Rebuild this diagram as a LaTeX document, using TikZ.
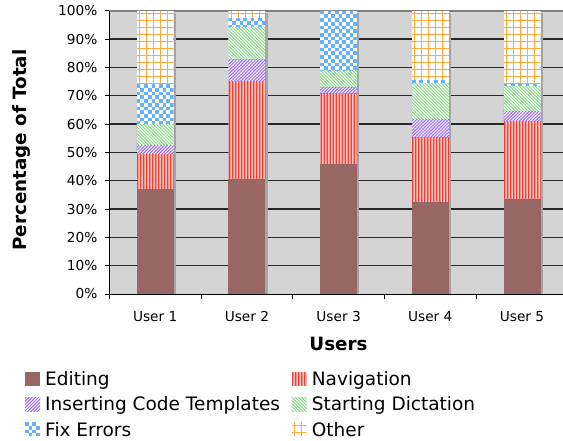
\documentclass[tikz,border=0pt]{standalone}
\usepackage{fontspec}
\setmainfont{DejaVu Sans}
\definecolor{plotbg}{RGB}{212,212,212}
\definecolor{editc}{RGB}{153,102,102}
\definecolor{navbg}{RGB}{242,150,142}
\definecolor{navln}{RGB}{240,64,60}
\definecolor{navlt}{RGB}{252,196,188}
\definecolor{insc}{RGB}{153,102,255}
\definecolor{startc}{RGB}{140,220,140}
\definecolor{fixc}{RGB}{102,178,255}
\definecolor{othc}{RGB}{255,170,60}
\definecolor{gridc}{RGB}{40,40,40}
\definecolor{barsh}{RGB}{165,165,165}
% segment painters: #1 x-left, #2 y-top, #3 x-right, #4 y-bottom (pixel coords)
\newcommand\segedit[4]{\fill[editc] (#1,#2) rectangle (#3,#4);}
\newcommand\segnav[4]{\begin{scope}\clip (#1,#2) rectangle (#3,#4);
 \fill[navbg] (#1,#2) rectangle (#3,#4);
 \foreach \i in {0,...,13}{\draw[navln,line width=1pt] ({#1+1+\i*3},#2) -- ({#1+1+\i*3},#4);
   \draw[navlt,line width=0.8pt] ({#1+2.5+\i*3},#2) -- ({#1+2.5+\i*3},#4);}
 \end{scope}}
\newcommand\segins[4]{\begin{scope}\clip (#1,#2) rectangle (#3,#4);
 \fill[white] (#1,#2) rectangle (#3,#4);
 \foreach \i in {-15,...,14}{\draw[insc,line width=1pt] ({#1+\i*3.2-40},{#4+40}) -- ({#1+\i*3.2+40},{#4-40});}
 \end{scope}}
\newcommand\segstart[4]{\begin{scope}\clip (#1,#2) rectangle (#3,#4);
 \fill[white] (#1,#2) rectangle (#3,#4);
 \foreach \i in {-16,...,14}{\draw[startc,line width=1pt] ({#1+\i*3.2-40},{#2-40}) -- ({#1+\i*3.2+40},{#2+40});}
 \end{scope}}
\newcommand\segfix[4]{\begin{scope}\clip (#1,#2) rectangle (#3,#4);
 \fill[white] (#1,#2) rectangle (#3,#4);
 \foreach \i in {0,2,...,10}{\draw[fixc,line width=3.7pt,dash pattern=on 3.7pt off 3.7pt] ({#1+(\i+0.5)*3.7},#2) -- ({#1+(\i+0.5)*3.7},#4);}
 \foreach \i in {1,3,...,11}{\draw[fixc,line width=3.7pt,dash pattern=on 3.7pt off 3.7pt,dash phase=3.7pt] ({#1+(\i+0.5)*3.7},#2) -- ({#1+(\i+0.5)*3.7},#4);}
 \end{scope}}
\newcommand\segoth[4]{\begin{scope}\clip (#1,#2) rectangle (#3,#4);
 \fill[white] (#1,#2) rectangle (#3,#4);
 \foreach \i in {0,...,5}{\draw[othc,line width=1pt] ({#1+3+\i*7},#2) -- ({#1+3+\i*7},#4);}
 \foreach \i in {0,...,13}{\draw[othc,line width=1pt] (#1,{#2+3+\i*7}) -- (#3,{#2+3+\i*7});}
 \end{scope}}
% one stacked bar: #1 x-left, #2..#6 cumulative percentages
\newcommand\statbar[6]{%
 \pgfmathsetmacro\bxr{#1+37}
 \pgfmathsetmacro\bya{294-2.833*#2}
 \pgfmathsetmacro\byb{294-2.833*#3}
 \pgfmathsetmacro\byc{294-2.833*#4}
 \pgfmathsetmacro\byd{294-2.833*#5}
 \pgfmathsetmacro\bye{294-2.833*#6}
 \fill[barsh] (\bxr,12.7) rectangle ({\bxr+2.2},294);
 \segedit{#1}{\bya}{\bxr}{294}
 \segnav{#1}{\byb}{\bxr}{\bya}
 \segins{#1}{\byc}{\bxr}{\byb}
 \segstart{#1}{\byd}{\bxr}{\byc}
 \segfix{#1}{\bye}{\bxr}{\byd}
 \segoth{#1}{10.7}{\bxr}{\bye}
}
\begin{document}
\begin{tikzpicture}[x=1pt,y=-1pt,
  ticklab/.style={inner sep=0pt,font=\fontsize{13.7}{16}\selectfont},
  axtitle/.style={inner sep=0pt,font=\fontsize{18.3}{21}\selectfont\bfseries},
  legtext/.style={inner sep=0pt,anchor=base west,font=\fontsize{18.5}{21}\selectfont}]
\useasboundingbox (0,0) rectangle (563,440);
% plot area
\fill[plotbg] (109.3,10.7) rectangle (563,294);
\foreach \k in {1,...,9}{\draw[gridc,line width=1.1pt] (109.3,{294-28.33*\k}) -- (563,{294-28.33*\k});}
\draw[black!50,line width=1.6pt] (109.3,10.7) -- (563,10.7);
% bars
\statbar{136.7}{37.1}{49.5}{52.6}{60.1}{74.0}
\statbar{228.4}{40.6}{75.3}{82.9}{94.4}{97.6}
\statbar{320.1}{45.9}{70.8}{73.0}{79.0}{100}
\statbar{411.8}{32.6}{55.4}{61.9}{74.6}{75.5}
\statbar{503.5}{33.6}{61.1}{64.6}{73.3}{74.2}
% axes
\coordinate (axtop) at (109.3,10.7);
\coordinate (axorig) at (109.3,294);
\coordinate (axright) at (563,294);
\draw[black,line width=1pt] (axtop) -- (axorig) -- (axright);
\foreach \k in {0,...,10}{\draw[black,line width=1pt] (105,{294-28.33*\k}) -- (109.3,{294-28.33*\k});}
\foreach \k in {0,...,4}{\draw[black,line width=1pt] ({109.3+91.7*\k},294) -- ({109.3+91.7*\k},298.5);}
% y tick labels
\foreach \k/\lab in {0/0\%,1/10\%,2/20\%,3/30\%,4/40\%,5/50\%,6/60\%,7/70\%,8/80\%,9/90\%,10/100\%}{
  \node[ticklab,anchor=east] (ylab\k) at (97.5,{294-28.33*\k}) {\lab};}
% x tick labels
\foreach \k in {1,...,5}{
  \node[ticklab,anchor=base] (xlab\k) at ({155.2+91.7*(\k-1)},321) {User \k};}
% axis titles
\node[axtitle,anchor=base] (xtitle) at (338.5,350) {Users};
\node[axtitle,anchor=base,rotate=90] (ytitle) at (26.5,150) {Percentage of Total};
% legend
\segedit{25}{371.7}{40}{386}
\segnav{291.7}{371.7}{306.7}{386}
\segins{25}{397}{40}{411}
\segstart{291.7}{397}{306.7}{411}
\segfix{25}{422.3}{40}{436.3}
\segoth{291.7}{422.3}{306.7}{436.3}
\node[legtext] (leg1) at (45,385.5) {Editing};
\node[legtext] (leg2) at (311.7,385.5) {Navigation};
\node[legtext] (leg3) at (45,410.7) {Inserting Code Templates};
\node[legtext] (leg4) at (311.7,410.7) {Starting Dictation};
\node[legtext] (leg5) at (45,436) {Fix Errors};
\node[legtext] (leg6) at (311.7,436) {Other};
\end{tikzpicture}
\end{document}
